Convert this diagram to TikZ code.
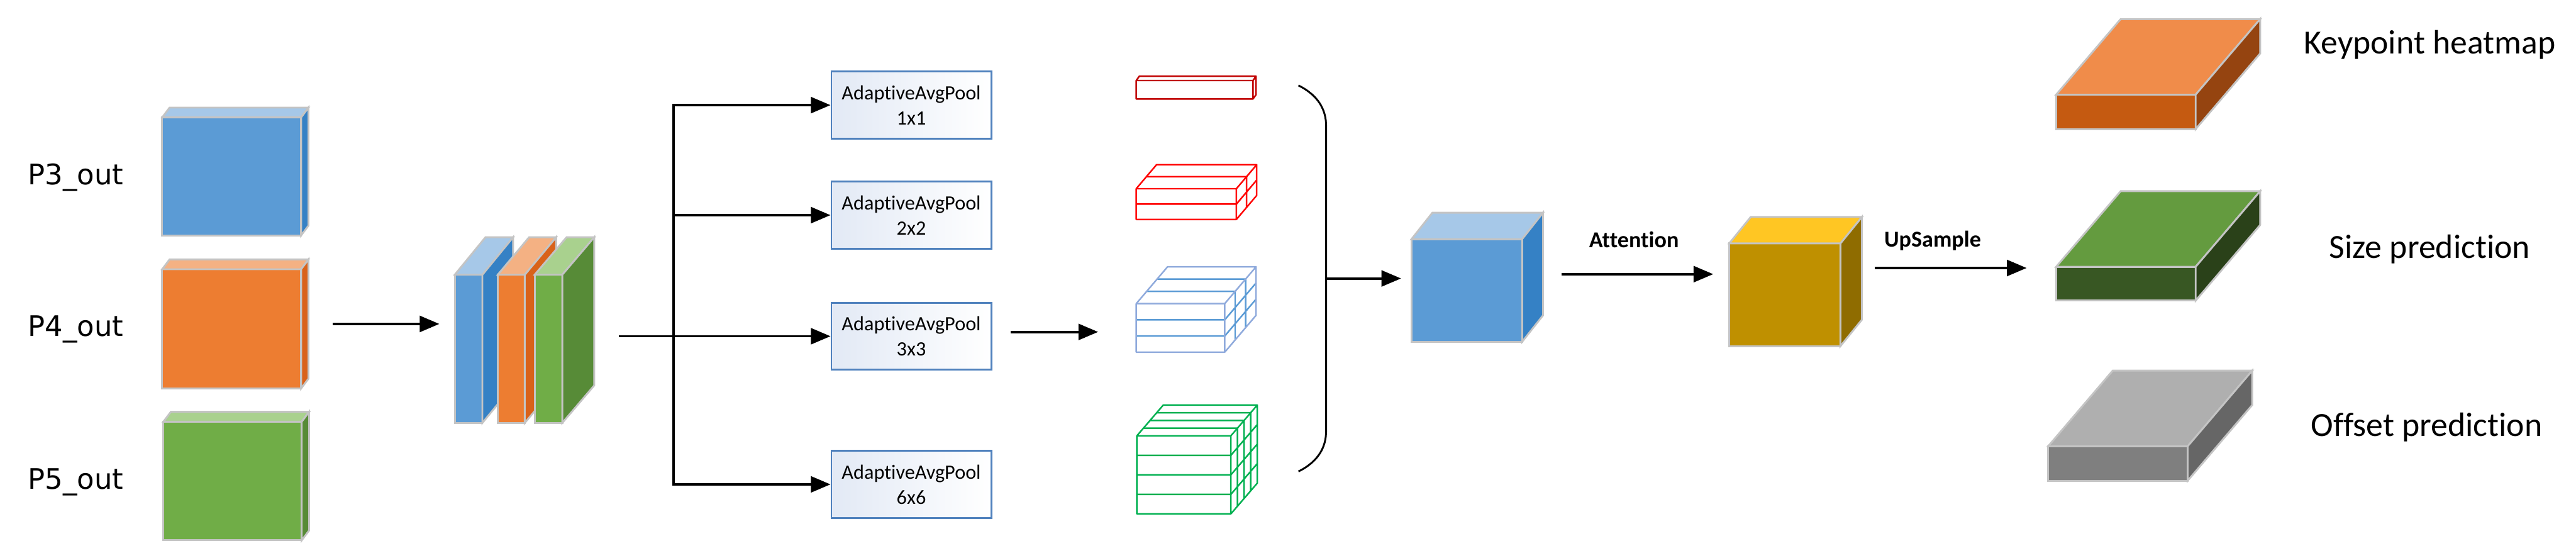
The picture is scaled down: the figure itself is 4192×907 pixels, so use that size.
\documentclass[tikz,border=0pt]{standalone}
\usepackage{fontspec}
\setmainfont{Carlito}[Ligatures=NoCommon]
\newfontfamily\labfont{DejaVu Sans}
\usetikzlibrary{arrows.meta}

\definecolor{edgegray}{HTML}{C4C4C4}
\definecolor{blueF}{HTML}{5B9BD5}  \definecolor{blueT}{HTML}{A6C8E8}  \definecolor{blueS}{HTML}{3581C5}
\definecolor{orangeF}{HTML}{ED7D31}\definecolor{orangeT}{HTML}{F4B183}\definecolor{orangeS}{HTML}{D9621A}
\definecolor{greenF}{HTML}{70AD47} \definecolor{greenT}{HTML}{A9D18E} \definecolor{greenS}{HTML}{578B37}
\definecolor{goldF}{HTML}{BF9000}  \definecolor{goldT}{HTML}{FFC623}  \definecolor{goldS}{HTML}{8F6C00}
\definecolor{heatF}{HTML}{C55A11}  \definecolor{heatT}{HTML}{F08C4A}  \definecolor{heatS}{HTML}{954410}
\definecolor{sizeF}{HTML}{385723}  \definecolor{sizeT}{HTML}{649B3F}  \definecolor{sizeS}{HTML}{2A4119}
\definecolor{offsF}{HTML}{7F7F7F}  \definecolor{offsT}{HTML}{AFAFAF}  \definecolor{offsS}{HTML}{666666}
\definecolor{poolblue}{HTML}{4F81BD}
\definecolor{pooltint}{HTML}{E2E9F5}
\definecolor{darkred}{HTML}{C00000}
\definecolor{gridblue}{HTML}{8FAADC}
\definecolor{gridgreen}{HTML}{00B050}

% name, x, y, w, h, dx, dy, colour prefix
\newcommand{\solidcube}[8]{%
  \filldraw[face, fill=#8F] (#2,#3) rectangle ++(#4,#5);
  \filldraw[face, fill=#8T] (#2,#3) -- ++(#6,-#7) -- ++(#4,0) -- ++(-#6,#7) -- cycle;
  \filldraw[face, fill=#8S] (#2+#4,#3) -- ++(#6,-#7) -- ++(0,#5) -- ++(-#6,#7) -- cycle;
  \node[hold, minimum width=#4pt, minimum height=#5pt] (#1) at (#2+#4/2,#3+#5/2) {};
}
% x, y, w, h, dx, dy, cells, outer line, inner line
\newcommand{\gridcube}[9]{%
  \ifnum#7>1
    \pgfmathtruncatemacro\gridlast{#7-1}
    \foreach \k in {1,...,\gridlast}
      \draw[#9] (#1,#2+\k*#4/#7) -- ++(#3,0)
                (#1+#3,#2+\k*#4/#7) -- ++(#5,-#6)
                (#1+\k*#5/#7,#2-\k*#6/#7) -- ++(#3,0)
                (#1+#3+\k*#5/#7,#2-\k*#6/#7) -- ++(0,#4);
  \fi
  \draw[#8] (#1,#2) rectangle ++(#3,#4)
            (#1,#2) -- ++(#5,-#6) -- ++(#3,0) -- ++(-#5,#6)
            (#1+#3+#5,#2-#6) -- ++(0,#4) -- ++(-#5,#6);
}

\tikzset{
  face/.style={draw=edgegray, line width=3pt},
  hold/.style={inner sep=0pt, outer sep=0pt},
  arr/.style={-{Triangle[length=32pt,width=26pt]}, line width=4pt},
  line/.style={line width=4pt},
  pool/.style={draw=poolblue, line width=3pt, left color=pooltint, right color=white,
    minimum width=260pt, minimum height=109pt, inner sep=0pt, align=center,
    font=\fontsize{33}{41}\selectfont},
  lab/.style={anchor=base west, font=\labfont\fontsize{46}{56}\selectfont},
  head/.style={anchor=base, font=\fontsize{55}{66}\selectfont},
  op/.style={anchor=base, font=\bfseries\fontsize{37}{44}\selectfont},
  grid/.style={line width=2.5pt, line join=round}
}

\begin{document}
\begin{tikzpicture}[x=1pt,y=-1pt]
  \useasboundingbox (0,0) rectangle (4192,907);

  % inputs
  \node[lab] (l3) at (42,300) {P3\_out};
  \node[lab] (l4) at (42,547) {P4\_out};
  \node[lab] (l5) at (42,796) {P5\_out};
  \solidcube{p3}{264}{191}{226}{192}{12}{16}{blue}
  \solidcube{p4}{264}{438}{226}{194}{12}{16}{orange}
  \solidcube{p5}{266}{686}{225}{193}{12}{16}{green}

  % concat
  \solidcube{sb}{740}{447}{45}{241}{50}{61}{blue}
  \solidcube{so}{810}{447}{44}{241}{51}{61}{orange}
  \solidcube{sg}{870}{447}{45}{241}{52}{61}{green}
  \node[hold, minimum width=175pt, minimum height=241pt] (stack) at (827.5,567.5) {};

  % pooling branches
  \node[pool] (pool1) at (1483,171) {AdaptiveAvgPool\\1x1};
  \node[pool] (pool2) at (1483,350) {AdaptiveAvgPool\\2x2};
  \node[pool] (pool3) at (1483,547) {AdaptiveAvgPool\\3x3};
  \node[pool] (pool4) at (1483,788) {AdaptiveAvgPool\\6x6};

  \gridcube{1849}{131}{190}{30}{5}{7}{1}{grid,darkred}{grid,darkred}
  \gridcube{1849}{307}{163}{50}{33}{39}{2}{grid,red}{grid,red}
  \gridcube{1849}{494}{144}{79}{51}{60}{3}{grid,gridblue}{grid,blueF}
  \gridcube{1850}{709}{153}{127}{43}{50}{4}{grid,gridgreen}{grid,gridgreen}
  \node[hold, minimum width=144pt, minimum height=79pt] (g3) at (1921,533.5) {};

  % fused features and heads
  \solidcube{fused}{2297}{389}{180}{167}{34}{43}{blue}
  \solidcube{gold}{2814}{396}{181}{167}{35}{43}{gold}
  \solidcube{heat}{3346}{154}{227}{56}{105}{123}{heat}
  \solidcube{sizep}{3346}{434}{227}{55}{105}{123}{size}
  \solidcube{offs}{3333}{726}{227}{56}{105}{123}{offs}

  \node[op] (attn) at (2659,403) {Attention};
  \node[op] (up) at (3145,402) {UpSample};
  \node[head] (hm) at (3954,87) {Keypoint heatmap};
  \node[head] (sz) at (3954,420) {Size prediction};
  \node[head] (of) at (3949,710) {Offset prediction};

  % connectors
  \coordinate (split) at (1096,547);
  \coordinate (merge) at (2158,453);
  \draw[arr] ([shift={(51,-8)}]p4.east) -- ([shift={(-25,-40.5)}]stack.west);
  \draw[line] ([shift={(92,-20.5)}]stack.east) -- (split);
  \draw[line, line cap=rect] (split |- pool1.west) -- (split |- pool4.west);
  \foreach \b in {pool1,pool2,pool3,pool4}
    \draw[arr] (split |- \b.west) -- (\b.west);
  \draw[arr] ([shift={(30,-7)}]pool3.east) -- ([shift={(-62,6.5)}]g3.west);
  \draw[line width=3pt] (2113,139) .. controls (2145,155) and (2158,178) .. (2158,205)
    -- (2158,701) .. controls (2158,728) and (2145,751) .. (2113,767);
  \draw[arr] (merge) -- ([shift={(-17,-19.5)}]fused.west);
  \draw[arr] ([shift={(64,-26.5)}]fused.east) -- ([shift={(-26,-33.5)}]gold.west);
  \draw[arr] ([shift={(56,-43.5)}]gold.east) -- ([shift={(-48,-25.5)}]sizep.west);
\end{tikzpicture}
\end{document}
